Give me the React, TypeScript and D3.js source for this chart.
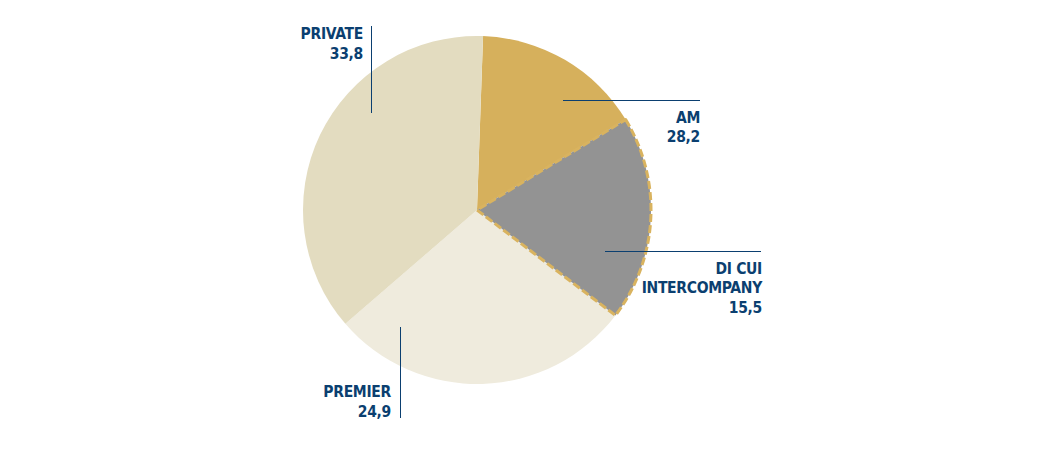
import React from "react";
import * as d3 from "d3";

// Slice shares (angles), clockwise from top
const sliceNames = ["AM", "DI CUI INTERCOMPANY", "PREMIER", "PRIVATE"];
const sliceShares = [15.75, 19.05, 28.3, 36.9];
const sliceColors = ["#d6b05c", "#939393", "#efebdd", "#e3dcc0"];

// Label texts
const labelLines = [["AM", "28,2"], ["DI CUI", "INTERCOMPANY", "15,5"], ["PREMIER", "24,9"], ["PRIVATE", "33,8"]];

const W = 1043, H = 450;
const cx = 477, cy = 210, R = 174;
const startDeg = 2;
const textColor = "#0b3f70";

export default function App() {
  const pie = d3.pie<number>().sort(null).value((d) => d)
    .startAngle((startDeg * Math.PI) / 180)
    .endAngle((startDeg * Math.PI) / 180 + 2 * Math.PI);
  const arcs = pie(sliceShares);
  const arcGen = d3.arc<d3.PieArcDatum<number>>().innerRadius(0).outerRadius(R);

  // annotation layout: leader line (x1,y1,x2,y2) and right-aligned text anchor
  const ann = [
    { line: [563, 100.5, 700, 100.5], tx: 700, ty: 122.5 },
    { line: [605, 251.5, 761, 251.5], tx: 762, ty: 273.5 },
    { line: [400.5, 327, 400.5, 418], tx: 391, ty: 397 },
    { line: [371.5, 26, 371.5, 113], tx: 363, ty: 39 },
  ];
  const lh = 19.6;
  const order = [0, 2, 3, 1];

  return (
    <svg width={W} height={H} style={{ position: "absolute", left: 0, top: 0 }}>
      <g transform={`translate(${cx},${cy})`}>
        {order.map((i) => (
          <path
            key={sliceNames[i]}
            d={arcGen(arcs[i]) || ""}
            fill={sliceColors[i]}
            stroke={i === 1 ? "#d9b35f" : "none"}
            strokeWidth={i === 1 ? 3 : 0}
            strokeDasharray={i === 1 ? "8,3" : undefined}
            strokeLinejoin="round"
          />
        ))}
      </g>
      {ann.map((a, i) => (
        <g key={i}>
          <line x1={a.line[0]} y1={a.line[1]} x2={a.line[2]} y2={a.line[3]} stroke={textColor} strokeWidth={1} />
          <text
            x={a.tx}
            y={a.ty}
            textAnchor="end"
            fill={textColor}
            style={{ fontFamily: "'DejaVu Sans Condensed', sans-serif", fontWeight: 700, fontSize: 15.5, letterSpacing: -0.3 }}
          >
            {labelLines[i].map((t, j) => (
              <tspan key={j} x={a.tx} y={a.ty + j * lh}>{t}</tspan>
            ))}
          </text>
        </g>
      ))}
    </svg>
  );
}
